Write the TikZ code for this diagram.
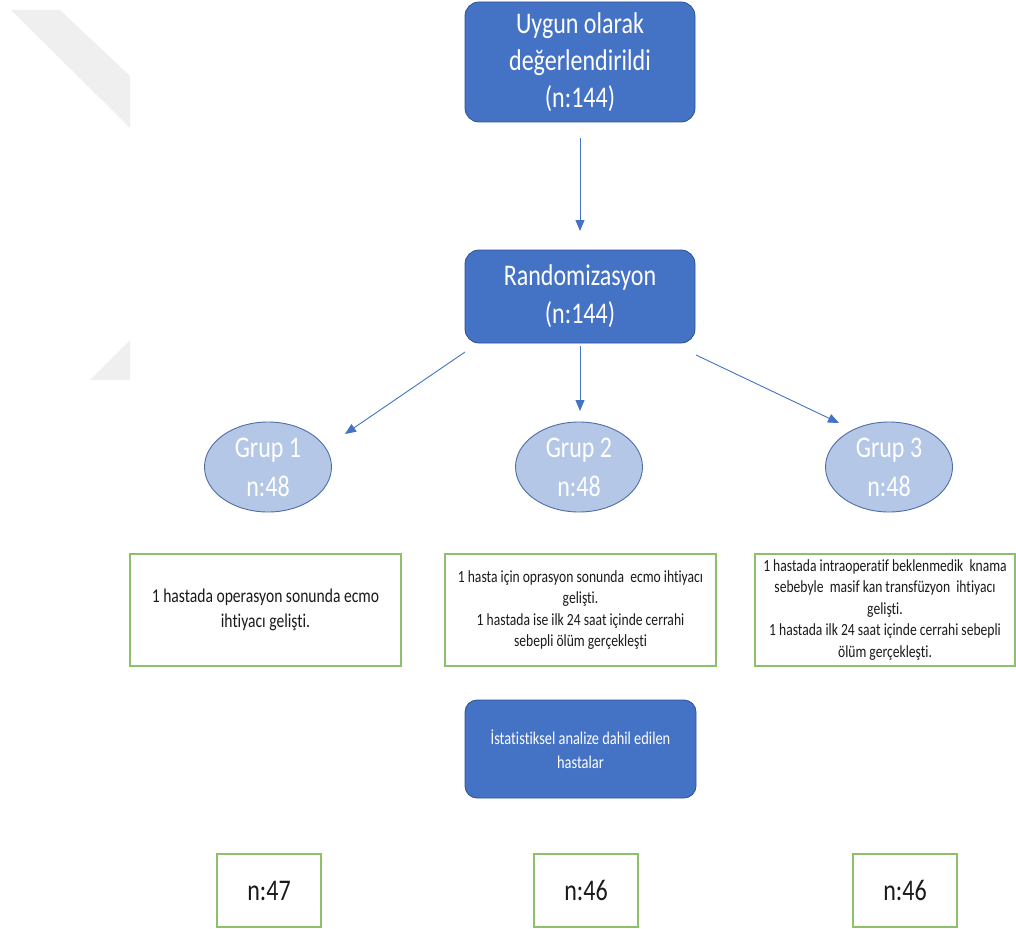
\documentclass[tikz,border=0pt]{standalone}
\usepackage{fontspec}
\setmainfont{Carlito}[FakeStretch=0.8,Ligatures={NoCommon}]
\usetikzlibrary{shapes.geometric,arrows.meta}
\definecolor{bluef}{HTML}{4472C4}
\definecolor{bluedr}{HTML}{2F528F}
\definecolor{ellf}{HTML}{B4C7E7}
\definecolor{elld}{HTML}{4F6DA6}
\definecolor{grn}{HTML}{8CC06A}
\definecolor{wm}{HTML}{EFEFEF}
\definecolor{txt}{HTML}{1A1A1A}
\tikzset{
  bluebox/.style={draw=bluedr, line width=0.8pt, fill=bluef, rounded corners=14pt, text=white, align=center, inner sep=0pt, minimum width=230pt},
  grpell/.style={ellipse, draw=elld, line width=0.9pt, fill=ellf, text=white, align=center, inner sep=0pt, minimum width=127pt, minimum height=90pt, font=\fontsize{30}{39}\selectfont},
  greenbox/.style={draw=grn, line width=1.3pt, fill=white, text=txt, align=center, inner sep=0pt},
  conn/.style={draw=bluef, line width=0.9pt, -{Triangle[length=11pt,width=9pt]}}
}
\begin{document}
\begin{tikzpicture}[x=1pt,y=-1pt]
\useasboundingbox (0,0) rectangle (1016,928);
% watermark
\fill[wm] (11,10) -- (60,10) -- (130,76) -- (130,128) -- cycle;
\fill[wm] (130,340) -- (130,380) -- (90,380) -- cycle;
% main boxes
\node[bluebox, minimum height=120pt, font=\fontsize{30}{37}\selectfont] (top) at (580,62) {Uygun olarak\\değerlendirildi\\(n:144)};
\node[bluebox, minimum height=93pt, font=\fontsize{30}{38}\selectfont] (rand) at (580,296.5) {Randomizasyon\\(n:144)};
% groups
\node[grpell] (g1) at (268,467) {Grup 1\\n:48};
\node[grpell] (g2) at (579,467) {Grup 2\\n:48};
\node[grpell] (g3) at (889,467) {Grup 3\\n:48};
% notes
\node[greenbox, minimum width=271pt, minimum height=112pt, font=\fontsize{19.5}{25}\selectfont] (c1) at (265.5,610) {1 hastada operasyon sonunda ecmo\\ihtiyacı gelişti.};
\node[greenbox, minimum width=271pt, minimum height=112pt, font=\fontsize{17}{21.5}\selectfont] (c2) at (580.5,610) {1 hasta için oprasyon sonunda \ ecmo ihtiyacı\\gelişti.\\1 hastada ise ilk 24 saat içinde cerrahi\\sebepli ölüm gerçekleşti};
\node[greenbox, minimum width=260pt, minimum height=112pt, font=\fontsize{17}{21.5}\selectfont] (c3) at (885,610) {1 hastada intraoperatif beklenmedik \ knama\\sebebyle \ masif kan transfüzyon \ ihtiyacı\\gelişti.\\1 hastada ilk 24 saat içinde cerrahi sebepli\\ölüm gerçekleşti.};
% statistics
\node[bluebox, minimum width=231pt, minimum height=98pt, rounded corners=12pt, font=\fontsize{18}{24}\selectfont] (stat) at (580.5,749) {İstatistiksel analize dahil edilen\\hastalar};
% final counts
\node[greenbox, minimum width=104pt, minimum height=73pt, font=\fontsize{30}{36}\selectfont] (n1) at (269,890.5) {n:47};
\node[greenbox, minimum width=104pt, minimum height=73pt, font=\fontsize{30}{36}\selectfont] (n2) at (586,890.5) {n:46};
\node[greenbox, minimum width=104pt, minimum height=73pt, font=\fontsize{30}{36}\selectfont] (n3) at (905,890.5) {n:46};
% connectors
\coordinate (a0s) at (580,138);
\coordinate (a0e) at (580,231);
\coordinate (a1s) at (465,352);
\coordinate (a1e) at (345,434);
\coordinate (a2s) at (580,346);
\coordinate (a2e) at (580,411);
\coordinate (a3s) at (696,355);
\coordinate (a3e) at (839,423);
\draw[conn] (a0s) -- (a0e);
\draw[conn] (a1s) -- (a1e);
\draw[conn] (a2s) -- (a2e);
\draw[conn] (a3s) -- (a3e);
\end{tikzpicture}
\end{document}
